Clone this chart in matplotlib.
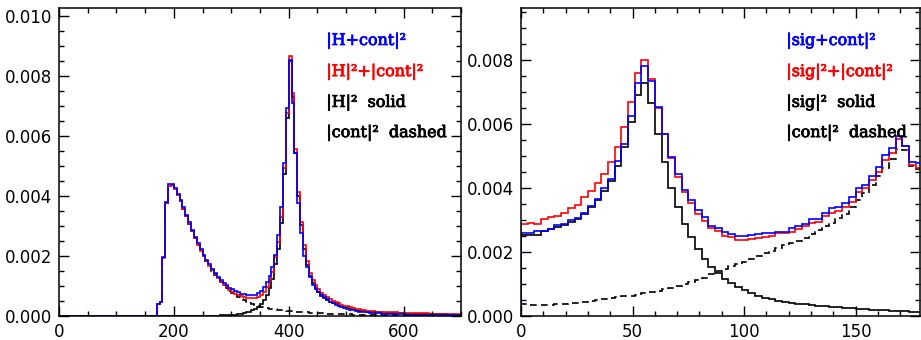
import numpy as np
import matplotlib
matplotlib.use("Agg")
import matplotlib.pyplot as plt
import matplotlib.patheffects as pe
from matplotlib.ticker import MultipleLocator, FormatStrFormatter

# values in units of 1e-3
# left panel: bin [0,170] empty, then 5-wide bins from 170 to 700
left_edges = np.r_[0, np.arange(170, 701, 5)]

left_interf = [0.0,
    0.40, 0.46, 1.96, 3.81, 4.39, 4.40, 4.26, 4.07, 3.88, 3.62,
    3.38, 3.12, 2.88, 2.64, 2.42, 2.22, 2.04, 1.88, 1.72, 1.57,
    1.43, 1.31, 1.20, 1.10, 1.02, 0.95, 0.89, 0.84, 0.79, 0.75,
    0.72, 0.70, 0.69, 0.69, 0.71, 0.76, 0.85, 0.98, 1.12, 1.35,
    1.65, 2.05, 2.70, 3.64, 5.09, 6.92, 8.55, 7.09, 5.42, 3.78,
    2.76, 2.00, 1.64, 1.31, 1.03, 0.90, 0.81, 0.70, 0.63, 0.57,
    0.47, 0.42, 0.37, 0.33, 0.29, 0.26, 0.23, 0.21, 0.19, 0.17,
    0.15, 0.14, 0.13, 0.12, 0.11, 0.10, 0.09, 0.09, 0.08, 0.08,
    0.07, 0.07, 0.07, 0.06, 0.06, 0.06, 0.06, 0.05, 0.05, 0.05,
    0.05, 0.05, 0.05, 0.05, 0.04, 0.04, 0.04, 0.04, 0.04, 0.04,
    0.04, 0.04, 0.04, 0.04, 0.04, 0.04]

left_sum = [0.0,
    0.40, 0.46, 1.94, 3.78, 4.33, 4.36, 4.22, 4.03, 3.84, 3.58,
    3.33, 3.07, 2.83, 2.59, 2.37, 2.17, 1.99, 1.83, 1.67, 1.52,
    1.39, 1.26, 1.15, 1.05, 0.96, 0.88, 0.81, 0.75, 0.70, 0.66,
    0.63, 0.60, 0.59, 0.59, 0.61, 0.64, 0.71, 0.81, 0.97, 1.17,
    1.48, 1.97, 2.46, 3.30, 4.94, 6.78, 8.67, 7.44, 5.56, 4.12,
    3.15, 2.37, 1.82, 1.45, 1.19, 1.02, 0.89, 0.78, 0.70, 0.63,
    0.56, 0.51, 0.46, 0.42, 0.38, 0.35, 0.32, 0.29, 0.27, 0.25,
    0.23, 0.21, 0.19, 0.18, 0.17, 0.16, 0.15, 0.14, 0.14, 0.13,
    0.13, 0.12, 0.12, 0.12, 0.11, 0.11, 0.11, 0.10, 0.10, 0.10,
    0.10, 0.09, 0.09, 0.09, 0.09, 0.08, 0.08, 0.08, 0.08, 0.08,
    0.07, 0.07, 0.07, 0.07, 0.07, 0.07]

left_h = [0.0,
    0, 0, 0, 0, 0, 0, 0, 0, 0, 0,
    0, 0, 0, 0, 0, 0, 0, 0, 0, 0.01,
    0.01, 0.01, 0.02, 0.02, 0.03, 0.03, 0.04, 0.05, 0.06, 0.08,
    0.10, 0.12, 0.15, 0.19, 0.24, 0.30, 0.40, 0.52, 0.70, 0.92,
    1.25, 1.75, 2.25, 3.10, 4.75, 6.60, 8.50, 7.30, 5.45, 4.00,
    3.05, 2.25, 1.70, 1.35, 1.10, 0.92, 0.79, 0.68, 0.60, 0.54,
    0.48, 0.43, 0.39, 0.35, 0.32, 0.29, 0.26, 0.24, 0.22, 0.20,
    0.18, 0.17, 0.16, 0.15, 0.14, 0.13, 0.12, 0.12, 0.11, 0.11,
    0.10, 0.10, 0.10, 0.09, 0.09, 0.09, 0.08, 0.08, 0.08, 0.08,
    0.07, 0.07, 0.07, 0.07, 0.07, 0.06, 0.06, 0.06, 0.06, 0.06,
    0.06, 0.05, 0.05, 0.05, 0.05, 0.05]

left_cont = [0.0,
    0.40, 0.46, 1.94, 3.78, 4.33, 4.36, 4.22, 4.03, 3.84, 3.58,
    3.33, 3.07, 2.83, 2.59, 2.37, 2.17, 1.99, 1.83, 1.67, 1.51,
    1.38, 1.25, 1.13, 1.03, 0.93, 0.85, 0.77, 0.70, 0.64, 0.58,
    0.53, 0.48, 0.44, 0.40, 0.37, 0.34, 0.31, 0.29, 0.27, 0.25,
    0.23, 0.22, 0.21, 0.20, 0.19, 0.18, 0.17, 0.16, 0.15, 0.14,
    0.13, 0.13, 0.12, 0.11, 0.11, 0.10, 0.10, 0.09, 0.09, 0.08,
    0.08, 0.08, 0.07, 0.07, 0.07, 0.06, 0.06, 0.06, 0.05, 0.05,
    0.05, 0.05, 0.04, 0.04, 0.04, 0.04, 0.04, 0.03, 0.03, 0.03,
    0.03, 0.03, 0.03, 0.03, 0.03, 0.02, 0.02, 0.02, 0.02, 0.02,
    0.02, 0.02, 0.02, 0.02, 0.02, 0.02, 0.02, 0.02, 0.02, 0.02,
    0.02, 0.02, 0.02, 0.02, 0.02, 0.02]

# right panel: 3-wide bins from 0 to 180
right_edges = np.arange(0, 181, 3)

right_interf = [
    2.60, 2.60, 2.66, 2.66, 2.73, 2.84, 2.88, 3.00, 3.05, 3.23,
    3.44, 3.65, 3.99, 4.27, 4.85, 5.38, 6.25, 7.27, 7.81, 7.34,
    6.53, 5.68, 4.98, 4.44, 3.94, 3.63, 3.31, 3.08, 2.81, 2.74,
    2.62, 2.55, 2.50, 2.50, 2.53, 2.55, 2.58, 2.60, 2.64, 2.64,
    2.74, 2.81, 2.88, 3.02, 3.02, 3.23, 3.36, 3.42, 3.54, 3.71,
    3.99, 4.10, 4.38, 4.67, 5.03, 5.26, 5.63, 5.30, 4.80, 4.77]

right_sum = [
    2.89, 2.91, 2.89, 3.02, 3.08, 3.12, 3.22, 3.36, 3.47, 3.71,
    3.92, 4.17, 4.44, 4.82, 5.27, 5.90, 6.70, 7.58, 8.00, 7.41,
    6.49, 5.68, 4.93, 4.33, 3.89, 3.52, 3.19, 2.98, 2.76, 2.66,
    2.51, 2.46, 2.38, 2.38, 2.40, 2.43, 2.48, 2.50, 2.58, 2.58,
    2.64, 2.71, 2.80, 2.90, 2.95, 3.11, 3.21, 3.28, 3.42, 3.57,
    3.89, 4.00, 4.25, 4.51, 4.88, 5.10, 5.52, 5.30, 4.72, 4.61]

right_sig = [
    2.53, 2.53, 2.53, 2.67, 2.71, 2.79, 2.84, 2.95, 3.03, 3.19,
    3.42, 3.62, 3.92, 4.23, 4.69, 5.29, 6.07, 6.91, 7.29, 6.67,
    5.68, 4.82, 4.00, 3.40, 2.89, 2.48, 2.10, 1.78, 1.52, 1.33,
    1.16, 1.03, 0.91, 0.81, 0.72, 0.64, 0.57, 0.52, 0.47, 0.44,
    0.41, 0.39, 0.36, 0.34, 0.32, 0.30, 0.29, 0.27, 0.26, 0.24,
    0.23, 0.21, 0.20, 0.19, 0.18, 0.17, 0.16, 0.15, 0.14, 0.13]

right_cont = [
    0.37, 0.35, 0.34, 0.34, 0.35, 0.36, 0.38, 0.40, 0.42, 0.44,
    0.47, 0.50, 0.53, 0.55, 0.58, 0.61, 0.64, 0.67, 0.71, 0.75,
    0.79, 0.83, 0.88, 0.93, 0.99, 1.05, 1.12, 1.20, 1.30, 1.40,
    1.48, 1.56, 1.63, 1.70, 1.78, 1.88, 1.96, 2.04, 2.14, 2.22,
    2.28, 2.34, 2.45, 2.55, 2.68, 2.80, 2.92, 3.05, 3.20, 3.40,
    3.62, 3.85, 4.10, 4.36, 4.62, 4.90, 5.22, 5.20, 4.70, 4.60]

left_labels = ["|H+cont|²", "|H|²+|cont|²", "|H|²  solid", "|cont|²  dashed"]
right_labels = ["|sig+cont|²", "|sig|²+|cont|²", "|sig|²  solid", "|cont|²  dashed"]
label_colors = ["#0000ff", "#ff0000", "black", "black"]

W, H = 921, 340
fig = plt.figure(figsize=(W / 100, H / 100), dpi=100)
ax1 = fig.add_axes([59 / W, 24 / H, 402 / W, 308 / H])
ax2 = fig.add_axes([521 / W, 24 / H, 399 / W, 308 / H])


def draw(ax, edges, sig, cont, tot, interf, labels):
    lw = 1.2
    ax.stairs(np.array(sig) * 1e-3, edges, color="black", lw=lw)
    ax.stairs(np.array(cont) * 1e-3, edges, color="black", lw=lw,
              linestyle=(0, (4, 2.6)))
    ax.stairs(np.array(tot) * 1e-3, edges, color="#ff0000", lw=lw)
    ax.stairs(np.array(interf) * 1e-3, edges, color="#0000ff", lw=lw)
    ys = [0.880, 0.779, 0.679, 0.581]
    for txt, c, y in zip(labels, label_colors, ys):
        ax.text(0.665, y, txt, color=c, transform=ax.transAxes,
                fontsize=11.5, family="DejaVu Serif", va="baseline",
                path_effects=[pe.withStroke(linewidth=0.6, foreground=c)])
    ax.yaxis.set_major_locator(MultipleLocator(0.002))
    ax.yaxis.set_minor_locator(MultipleLocator(0.0005))
    ax.yaxis.set_major_formatter(FormatStrFormatter("%.3f"))
    ax.tick_params(which="both", direction="in", top=True, right=True,
                   labelsize=12, width=1.0)
    ax.tick_params(which="major", length=7.5, pad=5)
    ax.tick_params(which="minor", length=3.8)
    for s in ax.spines.values():
        s.set_linewidth(1.1)


draw(ax1, left_edges, left_h, left_cont, left_sum, left_interf, left_labels)
ax1.set_xlim(0, 700)
ax1.set_ylim(0, 0.01027)
ax1.xaxis.set_major_locator(MultipleLocator(200))
ax1.xaxis.set_minor_locator(MultipleLocator(50))

draw(ax2, right_edges, right_sig, right_cont, right_sum, right_interf, right_labels)
ax2.set_xlim(0, 178.9)
ax2.set_ylim(0, 0.009625)
ax2.xaxis.set_major_locator(MultipleLocator(50))
ax2.xaxis.set_minor_locator(MultipleLocator(10))

fig.savefig("out.png", dpi=100)
